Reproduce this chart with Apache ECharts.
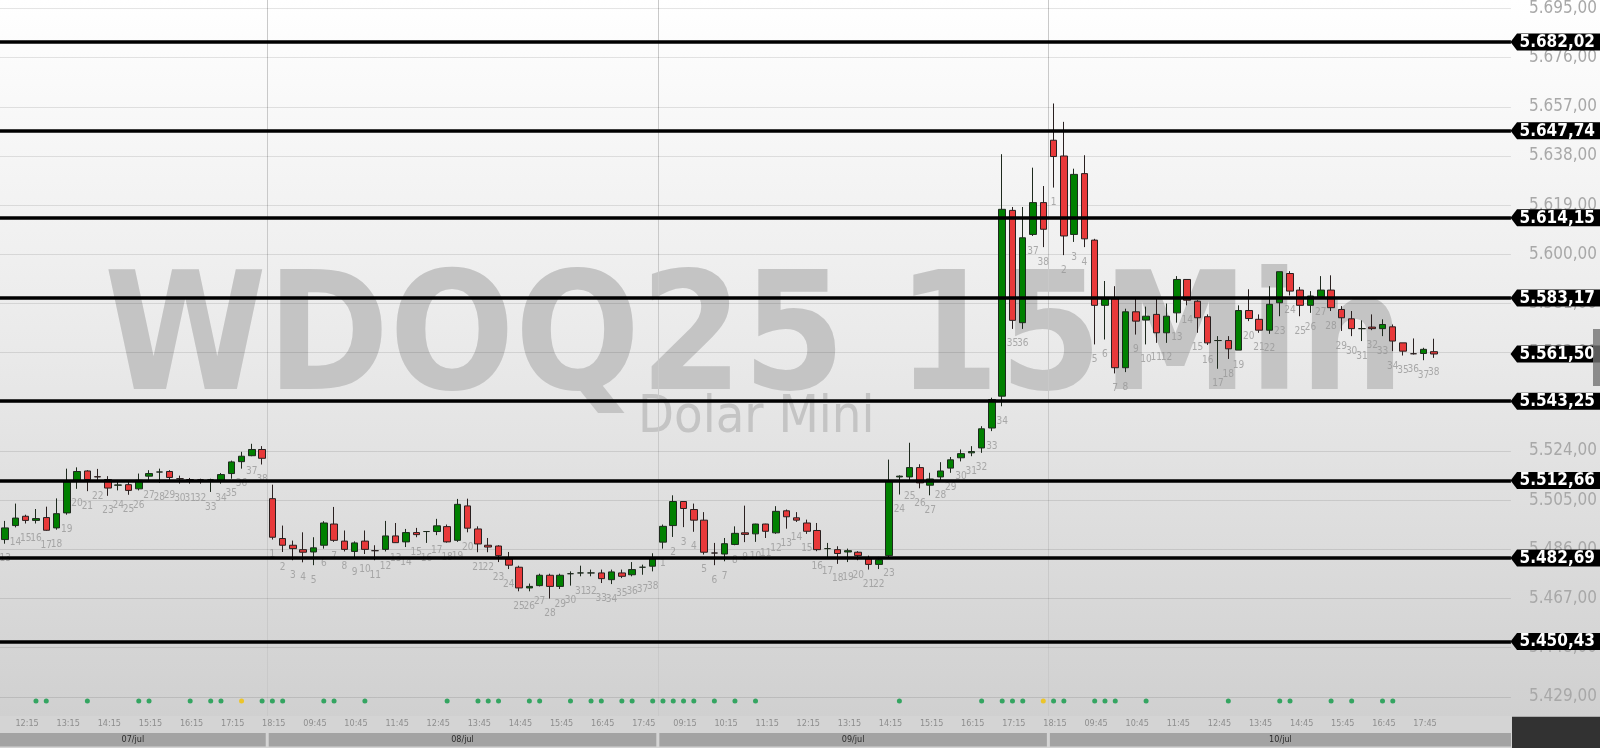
<!DOCTYPE html>
<html><head><meta charset="utf-8">
<script src="https://cdn.jsdelivr.net/npm/echarts@6/dist/echarts.min.js"></script>
<style>
html,body{margin:0;padding:0;overflow:hidden;}
#c{width:1600px;height:748px;background:linear-gradient(to bottom,#ffffff 0px,#e9e9e9 360px,#d0d0d0 716px,#d4d4d4 716px,#d4d4d4 748px);}
</style></head><body><div id="c"></div>
<script>
// ---- data: [open, close, low, high] per 15-min candle ----
const dayNames = ['07/jul', '08/jul', '09/jul', '10/jul'];
const dayFirstCandle = [13, 1, 1, 1];
const day07 = [
 [5489.8,5494.3,5488.2,5497.0],[5495.2,5498.1,5494.5,5503.7],[5498.8,5497.2,5496.0,5499.4],[5497.2,5497.9,5496.0,5501.6],
 [5498.3,5493.4,5493.2,5502.5],[5494.3,5499.8,5493.6,5505.7],[5500.1,5512.1,5499.4,5517.2],[5512.6,5516.1,5509.4,5517.7],
 [5516.3,5513.0,5508.5,5516.6],[5514.1,5514.0,5512.3,5517.1],[5513.0,5509.7,5506.7,5514.3],[5510.8,5510.9,5508.8,5512.6],
 [5511.0,5508.8,5507.1,5512.2],[5509.4,5512.7,5508.8,5515.3],[5514.3,5515.3,5512.8,5516.6],[5515.9,5515.9,5511.7,5517.2],
 [5516.1,5513.8,5512.7,5516.6],[5513.3,5513.3,5511.4,5514.5],[5513.0,5513.0,5511.4,5513.6],[5512.9,5512.9,5511.4,5513.3],
 [5512.9,5512.9,5508.2,5513.3],[5512.3,5514.9,5511.4,5515.5],[5515.3,5519.8,5513.3,5520.3],[5519.9,5522.0,5517.2,5523.7],
 [5522.2,5524.6,5522.0,5526.8],[5524.6,5521.2,5518.8,5525.9]
];
const day08 = [
 [5505.6,5490.7,5489.8,5511.0],[5490.2,5487.6,5485.0,5495.2],[5487.6,5486.3,5481.8,5489.4],[5485.9,5484.9,5481.0,5492.6],
 [5485.0,5486.6,5479.9,5490.7],[5487.6,5496.2,5486.3,5496.9],[5495.8,5489.5,5488.9,5502.4],[5489.2,5486.0,5485.2,5493.3],
 [5485.2,5488.5,5483.0,5489.1],[5489.2,5486.0,5484.2,5493.3],[5485.5,5485.5,5481.8,5487.6],[5486.0,5491.2,5485.2,5497.0],
 [5491.2,5488.6,5488.5,5496.2],[5488.9,5492.5,5486.9,5493.9],[5492.5,5491.7,5490.7,5494.3],[5492.9,5492.9,5488.5,5493.0],
 [5492.9,5495.1,5491.5,5497.8],[5494.8,5488.9,5488.6,5495.6],[5489.5,5503.4,5488.9,5505.5],[5502.8,5494.2,5492.6,5505.6],
 [5493.9,5488.1,5484.9,5494.9],[5487.6,5486.9,5484.9,5490.4],[5487.3,5483.6,5481.1,5487.6],[5482.3,5479.9,5478.4,5485.0],
 [5479.1,5471.1,5469.8,5479.7],[5471.1,5471.7,5469.8,5472.8],[5472.0,5476.0,5471.7,5476.6],[5476.0,5471.7,5467.0,5476.6],
 [5471.7,5476.0,5470.7,5476.6],[5476.6,5476.6,5472.0,5477.5],[5476.9,5476.9,5475.6,5479.7],[5476.9,5476.9,5475.6,5478.2],
 [5476.9,5474.7,5473.0,5478.2],[5474.3,5477.3,5472.6,5478.2],[5476.9,5475.6,5474.9,5478.2],[5476.2,5478.2,5475.6,5481.1],
 [5479.1,5479.1,5476.2,5480.1],[5479.5,5482.3,5477.5,5484.5]
];
const day09 = [
 [5488.8,5494.9,5486.3,5495.6],[5495.2,5504.5,5490.8,5506.9],[5504.5,5501.8,5494.6,5504.6],[5501.4,5497.3,5492.8,5503.7],
 [5497.3,5484.9,5484.0,5500.4],[5484.6,5484.6,5479.9,5488.5],[5484.2,5488.2,5481.4,5490.4],[5487.9,5492.2,5487.6,5494.9],
 [5492.4,5491.8,5488.8,5502.9],[5492.0,5495.8,5488.9,5495.9],[5495.8,5493.0,5490.4,5495.9],[5492.4,5500.7,5492.0,5502.7],
 [5500.9,5498.6,5494.0,5501.4],[5498.2,5497.3,5496.6,5500.4],[5496.2,5493.0,5492.0,5497.5],[5493.3,5485.9,5485.3,5496.2],
 [5486.3,5486.3,5483.1,5488.5],[5485.9,5484.4,5480.4,5487.2],[5485.0,5485.5,5481.1,5486.3],[5484.9,5483.6,5481.8,5485.3],
 [5482.3,5480.2,5478.2,5483.6],[5480.2,5482.0,5478.4,5483.1],[5483.6,5512.6,5482.7,5520.7],[5514.0,5514.3,5507.2,5514.6],
 [5514.0,5517.6,5512.3,5527.2],[5517.6,5511.7,5509.6,5518.9],[5510.8,5513.2,5506.9,5515.6],[5514.0,5516.3,5512.7,5519.7],
 [5517.4,5520.6,5515.6,5521.7],[5521.4,5523.0,5520.0,5524.6],[5523.3,5523.8,5522.0,5525.9],[5525.2,5532.6,5523.3,5533.6],
 [5532.9,5543.9,5531.7,5544.6],[5545.2,5617.4,5541.3,5638.7],[5617.0,5574.5,5571.2,5618.3],[5573.6,5606.4,5571.2,5618.3],
 [5607.7,5620.0,5607.1,5633.5],[5620.0,5609.7,5602.8,5626.4]
];
const day10 = [
 [5644.1,5637.8,5625.8,5658.3],[5638.0,5607.1,5599.7,5651.2],[5607.7,5630.9,5604.8,5633.1],[5631.2,5606.0,5602.8,5638.3],
 [5605.5,5580.3,5565.2,5606.0],[5580.3,5582.8,5567.1,5589.7],[5582.8,5556.2,5554.0,5587.7],[5556.2,5577.8,5554.5,5579.0],
 [5577.8,5574.2,5569.0,5583.2],[5574.6,5576.1,5565.2,5579.8],[5576.8,5569.7,5565.8,5582.8],[5569.7,5576.1,5565.8,5581.0],
 [5577.4,5590.3,5573.6,5591.6],[5590.3,5582.3,5580.3,5590.3],[5581.9,5575.5,5569.7,5582.3],[5575.9,5565.8,5565.0,5576.8],
 [5566.7,5566.7,5555.8,5568.4],[5566.7,5563.5,5559.6,5568.4],[5563.0,5578.3,5563.0,5580.3],[5578.3,5575.2,5574.2,5586.5],
 [5574.9,5570.7,5569.7,5576.8],[5570.7,5580.7,5569.3,5587.7],[5581.3,5593.3,5576.1,5593.3],[5592.6,5585.8,5584.1,5593.5],
 [5586.2,5580.3,5576.1,5587.4],[5580.3,5583.9,5577.4,5585.8],[5583.6,5586.2,5583.2,5591.6],[5586.2,5579.4,5578.1,5591.9],
 [5578.7,5575.5,5570.4,5580.0],[5575.1,5571.3,5568.4,5578.1],[5571.3,5571.3,5566.5,5574.5],[5571.9,5571.3,5570.7,5576.8],
 [5571.3,5572.9,5568.4,5574.9],[5572.0,5566.5,5562.6,5572.9],[5565.8,5562.6,5560.9,5565.8],[5561.6,5561.6,5561.3,5567.5],
 [5561.7,5563.3,5559.1,5563.9],[5562.4,5561.5,5560.0,5567.4]
];
const levels = [5682.02, 5647.74, 5614.15, 5583.17, 5543.25, 5512.66, 5482.69, 5450.43];
const yMin = 5429, yMax = 5695, yStep = 19;
const greenDotIdx = [3,4,8,13,14,18,20,21,25,26,27,31,32,35,43,46,47,48,51,52,55,57,58,60,61,63,64,65,66,67,69,71,73,87,95,97,98,99,102,103,106,107,108,111,119,124,125,129,131,134,135];
const yellowDotIdx = [23,101];
const emptySlots = 7;
const watermarkMain = 'WDOQ25 15Min';
const watermarkSub = 'Dolar Mini';

// ---- build ----
const dayCandles = [day07, day08, day09, day10];
const ohlc = [], categories = [], candleNo = [], dayStart = [];
const pad = n => (n < 10 ? '0' : '') + n;
dayCandles.forEach((arr, d) => {
  dayStart.push(ohlc.length);
  arr.forEach((v, j) => {
    const k = dayFirstCandle[d] + j;
    const m = 9 * 60 + (k - 1) * 15;
    ohlc.push(v); candleNo.push(k);
    categories.push(pad(Math.floor(m / 60)) + ':' + pad(m % 60));
  });
});
for (let j = 0; j < emptySlots; j++) categories.push('');

function fmt(v) {
  const s = v.toFixed(2).split('.');
  return s[0].replace(/\B(?=(\d{3})+(?!\d))/g, '.') + ',' + s[1];
}
const FC = "'DejaVu Sans Condensed', 'DejaVu Sans', sans-serif";
const GL = -6, GR = 89, GT = 8.3, GB = 51.1, AXH = 32;

const chart = echarts.init(document.getElementById('c'), null, {renderer: 'canvas'});
const option = {
  backgroundColor: 'transparent',
  animation: false,
  grid: [
    {left: GL, right: GR, top: GT, bottom: GB},
    {left: GL, right: GR, top: 748 - GB, bottom: AXH}
  ],
  xAxis: [
    {type: 'category', gridIndex: 0, data: categories, boundaryGap: true, show: false},
    {type: 'category', gridIndex: 1, data: categories, boundaryGap: true,
     axisLine: {show: false}, axisTick: {show: false}, splitLine: {show: false},
     axisLabel: {show: true, interval: (i) => i % 4 === 1 && categories[i] !== '', align: 'left', margin: 3,
       fontSize: 9, fontFamily: FC, color: '#8e8e8e'}}
  ],
  yAxis: [
    {type: 'value', gridIndex: 0, position: 'right', min: yMin, max: yMax, interval: yStep, scale: true,
     axisLine: {show: false}, axisTick: {show: false},
     splitLine: {show: true, lineStyle: {color: 'rgba(0,0,0,0.10)', width: 1}},
     axisLabel: {show: true, margin: 18, color: '#a8a8a8', fontSize: 17, fontFamily: FC, formatter: v => fmt(v)}},
    {type: 'value', gridIndex: 1, min: 0, max: 1, show: false}
  ],
  series: [
    {type: 'candlestick', xAxisIndex: 0, yAxisIndex: 0, data: ohlc, barWidth: 7, z: 2,
     itemStyle: {color: '#008000', color0: '#e8393a', borderColor: '#1e2a1e', borderColor0: '#2a2020', borderWidth: 1},
     markLine: {silent: true, symbol: ['none', 'none'], z: 5, label: {show: false},
       lineStyle: {color: '#000', width: 3.5, type: 'solid'}, emphasis: {disabled: true},
       data: levels.map(v => ({yAxis: v}))}},
    {type: 'scatter', xAxisIndex: 0, yAxisIndex: 0, silent: true, z: 3,
     data: ohlc.map((v, i) => [i, v[2], candleNo[i]]), symbolSize: 1,
     itemStyle: {color: 'rgba(0,0,0,0)'},
     label: {show: true, position: 'inside', offset: [0, 15], formatter: p => String(p.value[2]),
       color: '#979797', fontSize: 10, fontFamily: FC}},
    {type: 'scatter', xAxisIndex: 1, yAxisIndex: 1, silent: true, symbolSize: 5,
     data: greenDotIdx.map(i => [i, 0.79]), itemStyle: {color: '#0c9a45'}},
    {type: 'scatter', xAxisIndex: 1, yAxisIndex: 1, silent: true, symbolSize: 5,
     data: yellowDotIdx.map(i => [i, 0.79]), itemStyle: {color: '#f2c200'}}
  ]
};
chart.setOption(option);

// ---- decorations placed through the chart's own scales ----
const W = chart.getWidth(), H = chart.getHeight();
const px = i => chart.convertToPixel({xAxisIndex: 0}, i);
const py = v => chart.convertToPixel({yAxisIndex: 0}, v);
const plotRight = W - GR;
const axisTop = H - AXH;
const g = [];
// watermark
g.push({type: 'text', z: -10, x: 104, y: 346, silent: true,
  style: {text: watermarkMain, fill: '#c4c4c4', font: 'bold 164px ' + FC, textAlign: 'left', align: 'left', textVerticalAlign: 'middle', verticalAlign: 'middle'}});
g.push({type: 'text', z: -10, x: 638, y: 418, silent: true,
  style: {text: watermarkSub, fill: '#c4c4c4', font: '52px ' + FC, textAlign: 'left', align: 'left', textVerticalAlign: 'middle', verticalAlign: 'middle'}});
// day separators & date bar
const bounds = [];
for (let d = 1; d < dayStart.length; d++) bounds.push((px(dayStart[d] - 1) + px(dayStart[d])) / 2);
bounds.forEach(b => g.push({type: 'line', z: -5, silent: true, shape: {x1: Math.round(b) + 0.5, y1: 0, x2: Math.round(b) + 0.5, y2: axisTop}, style: {stroke: '#c9c9c9', lineWidth: 1}}));
for (let d = 0; d < dayNames.length; d++) {
  const x0 = d === 0 ? 0 : bounds[d - 1] + 1.5;
  const x1 = d === dayNames.length - 1 ? plotRight : bounds[d] - 1.5;
  g.push({type: 'rect', z: 1, silent: true, shape: {x: x0, y: H - 15, width: x1 - x0, height: 13.5}, style: {fill: '#a3a3a3'}});
  g.push({type: 'text', z: 2, silent: true, x: (x0 + x1) / 2, y: H - 8.2,
    style: {text: dayNames[d], fill: '#2c2c2c', font: '9px ' + FC, textAlign: 'center', align: 'center', textVerticalAlign: 'middle', verticalAlign: 'middle'}});
}
g.push({type: 'rect', z: 1, silent: true, shape: {x: plotRight + 1, y: axisTop + 0.7, width: W - plotRight - 1, height: AXH}, style: {fill: '#323232'}});
// level tags + last price tag
const tagVals = levels.concat([ohlc[ohlc.length - 1][1]]);
tagVals.forEach(v => {
  const cy = py(v), tip = plotRight - 0.5, hh = 8.5;
  g.push({type: 'polygon', z: 50, silent: true, shape: {points: [[tip, cy], [tip + 6.5, cy - hh], [W + 2, cy - hh], [W + 2, cy + hh], [tip + 6.5, cy + hh]]}, style: {fill: '#000'}});
  g.push({type: 'text', z: 51, silent: true, x: tip + 9, y: cy + 0.5,
    style: {text: fmt(v), fill: '#ffffff', font: 'bold 17px ' + FC, textAlign: 'left', align: 'left', textVerticalAlign: 'middle', verticalAlign: 'middle',
      shadowColor: 'rgba(60,120,220,0.9)', shadowOffsetX: -1, shadowOffsetY: 0, shadowBlur: 1}});
});
// right-edge scroll thumb
const lastY = py(ohlc[ohlc.length - 1][1]);
g.push({type: 'rect', z: 60, silent: true, shape: {x: W - 7, y: lastY - 25, width: 7, height: 57}, style: {fill: 'rgba(115,115,115,0.8)'}});
chart.setOption({graphic: {elements: g}});
</script></body></html>
